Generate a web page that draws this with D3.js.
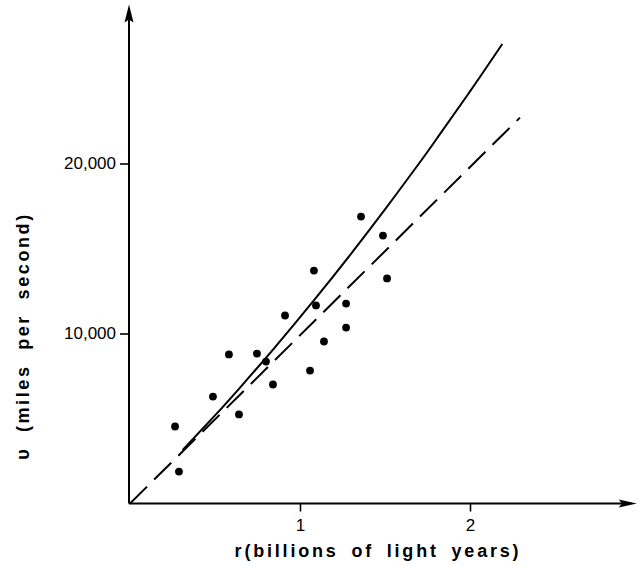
<!DOCTYPE html>
<html><head><meta charset="utf-8">
<script src="https://cdn.jsdelivr.net/npm/d3@7"></script>
<style>body{margin:0;background:#fff}svg{display:block}</style>
</head><body>
<script>
// distance r (billions of light years) and velocity v (miles per second)
const pointR = [0.265,0.288,0.488,0.582,0.641,0.747,0.80,0.841,0.912,1.059,1.082,1.094,1.141,1.271,1.271,1.359,1.488,1.512];
const pointV = [4530,1880,6290,8770,5240,8820,8350,7000,11060,7820,13700,11650,9530,10350,11760,16880,15760,13240];
// dashed straight line
const lineR = [0, 2.294];
const lineV = [0, 22700];
// solid curve
const curveR = [0.31,0.50,0.65,0.85,1.09,1.30,1.50,1.70,1.82,2.00,2.19];
const curveV = [3150,5180,6850,9160,12050,14690,17300,20000,21680,24240,27030];
const xTicks = [1,2];
const xTickLabels = ["1","2"];
const yTicks = [10000,20000];
const yTickLabels = ["10,000","20,000"];
const xTitle = "r(billions of light years)";
const yTitle = "\u03c5 (miles per second)";

const W=642,H=566;
const FONT="'Liberation Sans',Arial,sans-serif";
const svg=d3.select("body").append("svg").attr("width",W).attr("height",H);
const x=d3.scaleLinear().domain([0,3]).range([130,640]);
const y=d3.scaleLinear().domain([0,30000]).range([503.5,-6.5]);
const xEnd=2.94, yEnd=29000;

// axes lines
svg.append("line").attr("x1",x(0)-1).attr("x2",x(xEnd)).attr("y1",y(0)).attr("y2",y(0)).attr("stroke","#000").attr("stroke-width",2);
svg.append("line").attr("x1",x(0)-1).attr("x2",x(0)-1).attr("y1",y(0)).attr("y2",y(yEnd)).attr("stroke","#000").attr("stroke-width",2);
// arrowheads
const ax=x(xEnd), ay=y(0);
svg.append("path").attr("d",`M${ax+7},${ay} L${ax-11},${ay-4} L${ax-8},${ay} L${ax-11},${ay+4} Z`).attr("fill","#000");
const tx=x(0)-1, ty=y(yEnd);
svg.append("path").attr("d",`M${tx},${ty-6} L${tx-4.5},${ty+12} L${tx},${ty+9} L${tx+4.5},${ty+12} Z`).attr("fill","#000");

// axis ticks
const gx=svg.append("g").attr("transform",`translate(0,${y(0)})`)
  .call(d3.axisBottom(x).tickValues(xTicks).tickFormat((d,i)=>xTickLabels[i]).tickSize(8).tickPadding(7));
const gy=svg.append("g").attr("transform",`translate(${x(0)-1},0)`)
  .call(d3.axisLeft(y).tickValues(yTicks).tickFormat((d,i)=>yTickLabels[i]).tickSize(9).tickPadding(4));
[gx,gy].forEach(g=>{
  g.select(".domain").remove();
  g.selectAll(".tick line").attr("stroke","#000").attr("stroke-width",1.6);
  g.selectAll("text").attr("font-family",FONT).attr("font-size",17).attr("fill","#000");
});

// dashed line
svg.append("path").datum(lineR.map((r,i)=>[r,lineV[i]]))
  .attr("d",d3.line().x(d=>x(d[0])).y(d=>y(d[1])))
  .attr("fill","none").attr("stroke","#000").attr("stroke-width",2).attr("stroke-dasharray","24,10");
// solid curve
svg.append("path").datum(curveR.map((r,i)=>[r,curveV[i]]))
  .attr("d",d3.line().curve(d3.curveNatural).x(d=>x(d[0])).y(d=>y(d[1])))
  .attr("fill","none").attr("stroke","#000").attr("stroke-width",2);
// points
svg.selectAll("circle.pt").data(pointR.map((r,i)=>[r,pointV[i]])).enter().append("circle")
  .attr("cx",d=>x(d[0])).attr("cy",d=>y(d[1])).attr("r",3.9).attr("fill","#000");

// titles
svg.append("text").attr("x",378).attr("y",557).attr("text-anchor","middle")
  .attr("font-family",FONT).attr("font-size",18).attr("font-weight","bold")
  .attr("letter-spacing",2.8).attr("word-spacing",5).text(xTitle);
svg.append("text").attr("transform","translate(29,336) rotate(-90)").attr("text-anchor","middle")
  .attr("font-family",FONT).attr("font-size",18).attr("font-weight","bold")
  .attr("letter-spacing",2.6).attr("word-spacing",7).text(yTitle);
</script>
</body></html>
